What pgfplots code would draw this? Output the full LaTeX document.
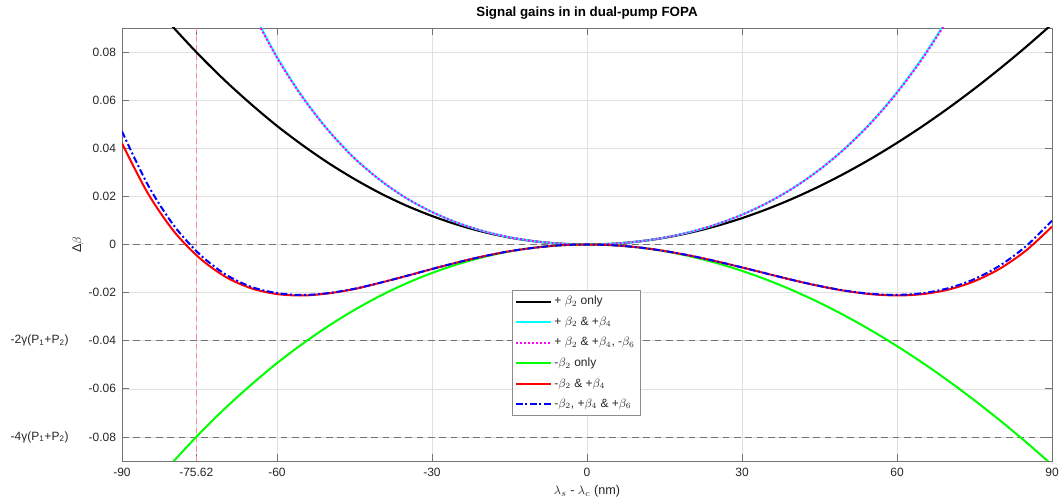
\documentclass[border=0pt]{standalone}
\usepackage{fontspec}
\setmainfont{Liberation Sans}
\usepackage{pgfplots}
\pgfplotsset{compat=1.18}
\usepackage{pgfplotstable}

% d = lambda_s - lambda_c (nm); Delta beta for each dispersion case
\pgfplotstableread{
d black cyan magenta green red blue
-90 0.1156 0.2732 0.2682 -0.1156 0.0420 0.0470
-85 0.1024 0.2261 0.2226 -0.1024 0.0213 0.0248
-80 0.0901 0.1858 0.1834 -0.0901 0.0056 0.0080
-75 0.0786 0.1516 0.1500 -0.0786 -0.0056 -0.0040
-70 0.0680 0.1226 0.1216 -0.0680 -0.0134 -0.0124
-65 0.0583 0.0984 0.0978 -0.0583 -0.0182 -0.0176
-60 0.0493 0.0780 0.0776 -0.0493 -0.0206 -0.0202
-55 0.0412 0.0612 0.0610 -0.0412 -0.0212 -0.0210
-50 0.0338 0.0473 0.0472 -0.0338 -0.0203 -0.0202
-45 0.0272 0.0359 0.0358 -0.0272 -0.0185 -0.0184
-40 0.0213 0.0267 0.0267 -0.0213 -0.0159 -0.0159
-35 0.0162 0.0193 0.0193 -0.0162 -0.0131 -0.0131
-30 0.01185 0.01351 0.01351 -0.01185 -0.0102 -0.0102
-25 0.00817 0.00896 0.00896 -0.00817 -0.0074 -0.0074
-20 0.00520 0.00552 0.00552 -0.00520 -0.0049 -0.0049
-15 0.00290 0.00300 0.00300 -0.00290 -0.0028 -0.0028
-10 0.00128 0.00130 0.00130 -0.00128 -0.0013 -0.0013
-5 0.00032 0.00032 0.00032 -0.00032 -0.0003 -0.0003
0 0 0 0 0 0 0
5 0.00031 0.00031 0.00031 -0.00031 -0.0003 -0.0003
10 0.00125 0.00127 0.00127 -0.00125 -0.0012 -0.0012
15 0.00279 0.00288 0.00288 -0.00279 -0.0027 -0.0027
20 0.00494 0.00523 0.00523 -0.00494 -0.00465 -0.00465
25 0.00766 0.00835 0.00835 -0.00766 -0.00697 -0.00697
30 0.01096 0.01238 0.01238 -0.01096 -0.00954 -0.00954
35 0.01483 0.01743 0.01742 -0.01483 -0.01223 -0.01222
40 0.01925 0.02362 0.02360 -0.01925 -0.01488 -0.01486
45 0.02421 0.03113 0.03108 -0.02421 -0.01729 -0.01724
50 0.02970 0.04011 0.04003 -0.02970 -0.01929 -0.01921
55 0.03571 0.05076 0.05061 -0.03571 -0.02066 -0.02051
60 0.04224 0.06329 0.06305 -0.04224 -0.02119 -0.02095
65 0.04926 0.07790 0.07751 -0.04926 -0.02062 -0.02023
70 0.05678 0.09483 0.09423 -0.05678 -0.01873 -0.01813
75 0.06478 0.11431 0.11343 -0.06478 -0.01525 -0.01437
80 0.07326 0.13660 0.13532 -0.07326 -0.00992 -0.00864
85 0.08219 0.16192 0.16011 -0.08219 -0.00246 -0.00065
90 0.09159 0.19059 0.18809 -0.09159 0.00741 0.00991
}\gains

\definecolor{mlgray}{gray}{0.15}
\definecolor{mlcyan}{rgb}{0,1,1}
\definecolor{mlmag}{rgb}{1,0,1}
\definecolor{mlgreen}{rgb}{0,1,0}
\definecolor{mlred}{rgb}{1,0,0}
\definecolor{mlblue}{rgb}{0,0,1}

\begin{document}
\begin{tikzpicture}
\begin{axis}[
    scale only axis,
    width=697.5pt, height=324.75pt,
    xmin=-90, xmax=90, ymin=-0.09, ymax=0.09,
    scaled y ticks=false,
    xtick={-90,-75.62,-60,-30,0,30,60,90},
    xticklabels={-90,-75.62,-60,-30,0,30,60,90},
    ytick={-0.08,-0.06,-0.04,-0.02,0,0.02,0.04,0.06,0.08},
    yticklabels={-0.08,-0.06,-0.04,-0.02,0,0.02,0.04,0.06,0.08},
    tick align=inside, tick pos=both,
    major tick length=5pt,
    tick style={black!55, line width=0.5pt},
    axis line style={black!55, line width=0.6pt},
    grid=major,
    major grid style={black!12, line width=0.4pt},
    ticklabel style={font=\fontsize{9}{11}\selectfont, text=mlgray},
    xticklabel style={yshift=-2pt},
    yticklabel style={xshift=-1pt},
    title={\textbf{Signal gains in in dual-pump FOPA}},
    every axis title/.style={at={(axis description cs:0.5,1)}, anchor=south, yshift=3pt, font=\fontsize{10}{12}\selectfont},
    xlabel={$\lambda_s$ - $\lambda_c$ (nm)},
    every axis x label/.style={at={(axis description cs:0.5,0)}, anchor=center, yshift=-23pt, font=\fontsize{9.5}{11}\selectfont, text=mlgray},
    legend style={at={(axis cs:-14.5,-0.0189)}, anchor=north west,
        draw=black!45, fill=white, font=\fontsize{9}{11}\selectfont,
        inner xsep=2pt, inner ysep=2.5pt, row sep=3.6pt, text=mlgray},
    legend cell align=left,
    legend image code/.code={\draw[#1] (0pt,0pt) -- (26pt,0pt);},
    clip mode=individual,
]
% reference lines
\addplot[forget plot, black!55, line width=0.6pt, dash pattern=on 5pt off 3.5pt] coordinates {(-90,0) (90,0)};
\addplot[forget plot, black!55, line width=0.6pt, dash pattern=on 5pt off 3.5pt] coordinates {(-90,-0.04) (90,-0.04)};
\addplot[forget plot, black!55, line width=0.6pt, dash pattern=on 5pt off 3.5pt] coordinates {(-90,-0.08) (90,-0.08)};
\addplot[forget plot, red!45, line width=0.6pt, dash pattern=on 4pt off 3pt] coordinates {(-75.62,-0.09) (-75.62,0.09)};

\addplot[black, line width=1.6pt, smooth] table[x=d, y=black] {\gains};
\addlegendentry{+ $\beta_2$ only}
\addplot[mlcyan, line width=1.5pt, smooth] table[x=d, y=cyan] {\gains};
\addlegendentry{+ $\beta_2$ \& +$\beta_4$}
\addplot[mlmag, line width=1.5pt, dash pattern=on 1.5pt off 1.5pt, smooth] table[x=d, y=magenta] {\gains};
\addlegendentry{+ $\beta_2$ \& +$\beta_4$, -$\beta_6$}
\addplot[mlgreen, line width=1.5pt, smooth] table[x=d, y=green] {\gains};
\addlegendentry{-$\beta_2$ only}
\addplot[mlred, line width=1.5pt, smooth] table[x=d, y=red] {\gains};
\addlegendentry{-$\beta_2$ \& +$\beta_4$}
\addplot[mlblue, line width=1.5pt, dash pattern=on 5pt off 2pt on 1.5pt off 2pt, smooth] table[x=d, y=blue] {\gains};
\addlegendentry{-$\beta_2$, +$\beta_4$ \& +$\beta_6$}

\coordinate (m2) at (axis cs:-90,-0.04);
\coordinate (m4) at (axis cs:-90,-0.08);
\coordinate (yl) at (axis cs:-90,0);
\coordinate (sw) at (axis cs:-90,-0.09);
\coordinate (ne) at (axis cs:90,0.09);
\end{axis}
\node[anchor=east, font=\fontsize{9}{11}\selectfont, text=mlgray] at ([xshift=-36.5pt]m2) {-2γ(P\textsubscript{1}+P\textsubscript{2})};
\node[anchor=east, font=\fontsize{9}{11}\selectfont, text=mlgray] at ([xshift=-36.5pt]m4) {-4γ(P\textsubscript{1}+P\textsubscript{2})};
\node[rotate=90, font=\fontsize{9.5}{11}\selectfont, text=mlgray] at ([xshift=-33pt]yl) {Δ$\beta$};
\pgfresetboundingbox
\path ([xshift=-91.5pt, yshift=-30.75pt]sw) rectangle ([xshift=7.5pt, yshift=21pt]ne);
\end{tikzpicture}
\end{document}
